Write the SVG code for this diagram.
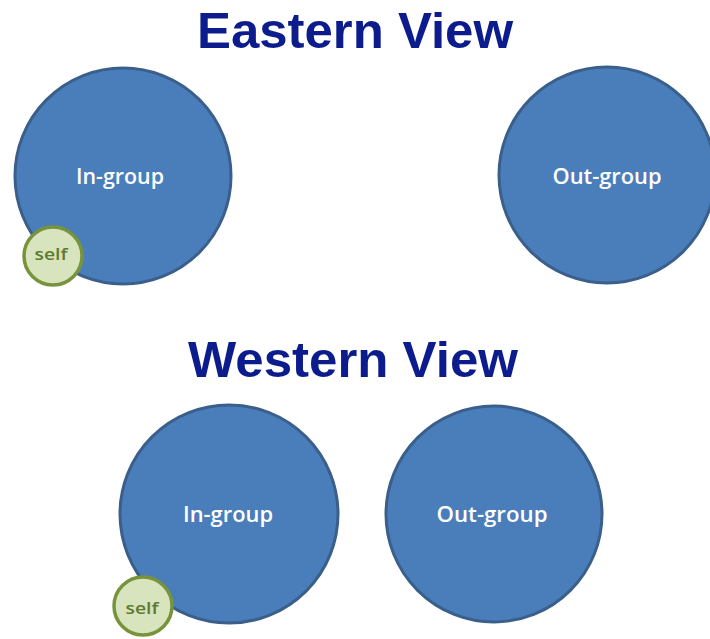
<svg xmlns="http://www.w3.org/2000/svg" width="710" height="639" viewBox="0 0 710 639">
<style>
.title{font-family:"Liberation Sans",Arial,sans-serif;font-weight:bold;font-size:50px;fill:#0C1C8C;text-anchor:middle}
.big{fill:#4A7EBB;stroke:#3A5F8B;stroke-width:3}
.self{fill:#D7E4BD;stroke:#77933C;stroke-width:3.5}
.lbl{font-family:"Open Sans","Liberation Sans",sans-serif;font-weight:600;font-size:22px;fill:#FFFFFF;text-anchor:middle}
.slbl{font-family:"Open Sans","Liberation Sans",sans-serif;font-weight:600;font-size:17px;fill:#5E7A2E;text-anchor:middle}
</style>
<rect width="710" height="639" fill="#FFFFFF"/>
<text class="title" x="355" y="48" textLength="316" lengthAdjust="spacingAndGlyphs">Eastern View</text>
<text class="title" x="353" y="377" textLength="330" lengthAdjust="spacingAndGlyphs">Western View</text>
<g id="east-ingroup">
<circle class="big" cx="123" cy="176" r="108"/>
<text class="lbl" x="120" y="184" textLength="88" lengthAdjust="spacingAndGlyphs">In-group</text>
</g>
<g id="east-self">
<circle class="self" cx="53" cy="256" r="29"/>
<text class="slbl" x="51" y="260" textLength="33" lengthAdjust="spacingAndGlyphs">self</text>
</g>
<g id="east-outgroup">
<circle class="big" cx="607" cy="175" r="108"/>
<text class="lbl" x="607" y="184" textLength="109" lengthAdjust="spacingAndGlyphs">Out-group</text>
</g>
<g id="west-ingroup">
<circle class="big" cx="229" cy="514" r="109"/>
<text class="lbl" x="228" y="522" textLength="90" lengthAdjust="spacingAndGlyphs">In-group</text>
</g>
<g id="west-self">
<circle class="self" cx="143" cy="606" r="29"/>
<text class="slbl" x="142" y="614" textLength="33" lengthAdjust="spacingAndGlyphs">self</text>
</g>
<g id="west-outgroup">
<circle class="big" cx="494" cy="514" r="108"/>
<text class="lbl" x="492" y="522" textLength="111" lengthAdjust="spacingAndGlyphs">Out-group</text>
</g>
<g id="connectors"/>
</svg>
